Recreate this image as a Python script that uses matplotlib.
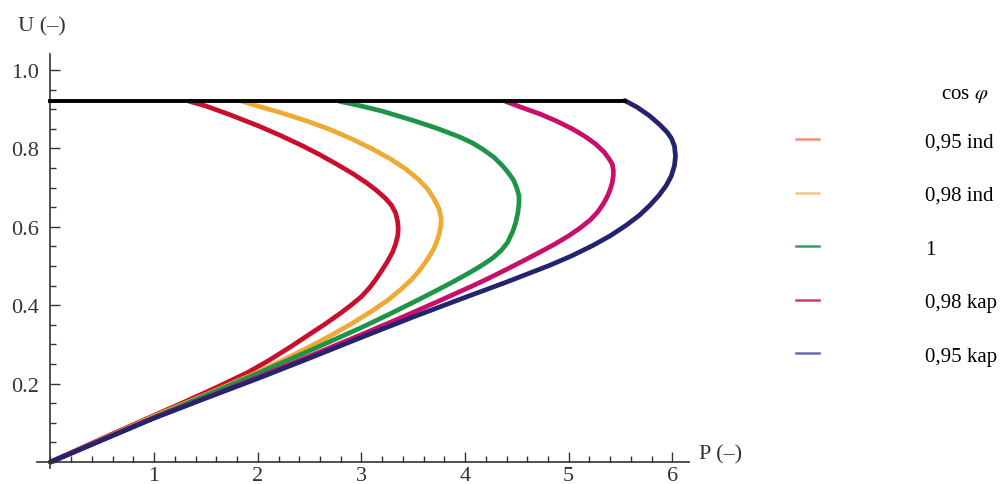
import matplotlib
matplotlib.use("Agg")
import matplotlib.pyplot as plt
from matplotlib.lines import Line2D
from matplotlib.ticker import MultipleLocator, FixedLocator, FixedFormatter

plt.rcParams['font.family'] = ['Liberation Serif', 'DejaVu Serif']
plt.rcParams['mathtext.fontset'] = 'stix'

# ---- data ----
labels = ["0,95 ind", "0,98 ind", "1", "0,98 kap", "0,95 kap"]

P_095ind = [1.34, 1.50, 1.73, 2.00, 2.21, 2.42, 2.59, 2.76, 2.92, 3.05, 3.14, 3.23, 3.29, 3.33, 3.35, 3.355,
            3.35, 3.33, 3.30, 3.25, 3.20, 3.14, 3.08, 3.00, 2.90, 2.80, 2.65, 2.50, 2.30, 2.10, 1.90, 1.60,
            1.30, 1.00, 0.50, 0.0]
U_095ind = [0.920, 0.908, 0.886, 0.858, 0.834, 0.808, 0.785, 0.760, 0.735, 0.712, 0.694, 0.673, 0.655, 0.635, 0.613, 0.594,
            0.577, 0.556, 0.535, 0.511, 0.490, 0.466, 0.445, 0.422, 0.400, 0.380, 0.352, 0.326, 0.291, 0.258, 0.228, 0.190,
            0.154, 0.119, 0.060, 0.0]

P_098ind = [1.85, 2.00, 2.21, 2.45, 2.69, 2.90, 3.11, 3.28, 3.43, 3.55, 3.64, 3.70, 3.75, 3.77, 3.765,
            3.74, 3.70, 3.64, 3.57, 3.49, 3.38, 3.25, 3.10, 2.90, 2.70, 2.50, 2.25, 2.00, 1.50, 1.00, 0.50, 0.0]
U_098ind = [0.920, 0.908, 0.892, 0.872, 0.849, 0.825, 0.798, 0.773, 0.747, 0.721, 0.696, 0.671, 0.645, 0.620, 0.600,
            0.572, 0.545, 0.518, 0.492, 0.467, 0.440, 0.412, 0.385, 0.352, 0.322, 0.294, 0.261, 0.229, 0.172, 0.117, 0.058, 0.0]

P_1 = [2.79, 3.00, 3.20, 3.49, 3.72, 3.94, 4.07, 4.17, 4.28, 4.36, 4.42, 4.47, 4.50, 4.52, 4.52, 4.51,
       4.49, 4.46, 4.41, 4.35, 4.27, 4.17, 4.05, 3.90, 3.75, 3.55, 3.30, 3.00, 2.50, 2.00, 1.50, 1.00, 0.50, 0.0]
U_1 = [0.920, 0.908, 0.895, 0.872, 0.852, 0.830, 0.814, 0.798, 0.777, 0.756, 0.737, 0.718, 0.698, 0.679, 0.660, 0.637,
       0.612, 0.588, 0.560, 0.540, 0.521, 0.503, 0.484, 0.462, 0.441, 0.414, 0.381, 0.343, 0.284, 0.226, 0.170, 0.114, 0.057, 0.0]

P_098kap = [4.39, 4.55, 4.72, 4.88, 5.04, 5.16, 5.26, 5.34, 5.39, 5.42, 5.43, 5.43, 5.42, 5.40, 5.37, 5.33, 5.28,
            5.21, 5.11, 5.00, 4.86, 4.72, 4.56, 4.39, 4.23, 4.07, 3.75, 3.40, 3.00, 2.50, 2.00, 1.50, 1.00, 0.50, 0.0]
U_098kap = [0.920, 0.904, 0.888, 0.870, 0.849, 0.830, 0.811, 0.791, 0.773, 0.760, 0.745, 0.730, 0.713, 0.695, 0.676, 0.657, 0.638,
            0.618, 0.597, 0.577, 0.555, 0.535, 0.513, 0.490, 0.469, 0.449, 0.411, 0.370, 0.325, 0.270, 0.216, 0.164, 0.113, 0.057, 0.0]

P_095kap = [5.54, 5.66, 5.78, 5.88, 5.95, 5.99, 6.02, 6.03, 6.02, 5.99, 5.94, 5.87, 5.78, 5.68, 5.55, 5.40,
            5.23, 5.03, 4.81, 4.39, 3.94, 3.50, 3.00, 2.50, 2.00, 1.50, 1.00, 0.50, 0.0]
U_095kap = [0.922, 0.905, 0.883, 0.860, 0.841, 0.826, 0.806, 0.780, 0.756, 0.730, 0.705, 0.680, 0.654, 0.629, 0.603, 0.577,
            0.552, 0.526, 0.501, 0.458, 0.414, 0.370, 0.318, 0.265, 0.213, 0.163, 0.112, 0.056, 0.0]

P_limit = [0.0, 5.54]
U_limit = [0.921, 0.921]

x_ticks = [1, 2, 3, 4, 5, 6]
y_ticks = [0.2, 0.4, 0.6, 0.8, 1.0]
y_ticklabels = ["0.2", "0.4", "0.6", "0.8", "1.0"]

curve_colors = ["#C8102E", "#EFAA35", "#1E9448", "#C8106A", "#23236E"]
legend_colors = ["#E8957A", "#F2C684", "#3E9A66", "#D03A7C", "#6A6AAE"]

series = [(P_095ind, U_095ind), (P_098ind, U_098ind), (P_1, U_1),
          (P_098kap, U_098kap), (P_095kap, U_095kap)]

# ---- figure ----
fig = plt.figure(figsize=(10.08, 4.85), dpi=100)
ax = fig.add_axes([0.0367, 0.0332, 0.6468, 0.8528])

for (P, U), c in zip(series, curve_colors):
    ax.plot(P, U, color=c, lw=3.4, solid_capstyle='round', solid_joinstyle='round', zorder=2)
ax.plot(P_limit, U_limit, color='black', lw=2.8, zorder=3)

ax.set_xlim(-0.13, 6.16)
ax.set_ylim(-0.015, 1.04)

for s in ['top', 'right']:
    ax.spines[s].set_visible(False)
ax.spines['left'].set_position(('data', 0))
ax.spines['bottom'].set_position(('data', 0))
for s in ['left', 'bottom']:
    ax.spines[s].set_color('#333333')
    ax.spines[s].set_linewidth(1.2)

ax.xaxis.set_major_locator(FixedLocator(x_ticks))
ax.xaxis.set_minor_locator(MultipleLocator(0.2))
ax.yaxis.set_major_locator(FixedLocator(y_ticks))
ax.yaxis.set_major_formatter(FixedFormatter(y_ticklabels))
ax.yaxis.set_minor_locator(MultipleLocator(0.05))
ax.tick_params(which='both', direction='in', color='#333333', width=1.0)
ax.tick_params(which='major', length=7)
ax.tick_params(which='minor', length=4)
ax.tick_params(axis='x', which='major', labelsize=16, pad=3, labelcolor='#333333')
ax.tick_params(axis='y', which='major', labelsize=16, pad=8, labelcolor='#333333')

fig.text(0.018, 0.945, "U (–)", fontsize=16, color='#333333', va='center', ha='left')
fig.text(0.693, 0.062, "P (–)", fontsize=16, color='#333333', va='center', ha='left')

handles = [Line2D([], [], color=c, lw=1.8) for c in legend_colors]
fig.legend(handles, labels, loc='upper left', bbox_to_anchor=(0.79, 0.726),
           frameon=False, fontsize=15, handlelength=1.1, handletextpad=5.1,
           labelspacing=1.63, borderaxespad=0, borderpad=0)
fig.text(0.934, 0.803, "cos $\\varphi$", fontsize=15, color='black', va='center', ha='left')

fig.savefig("out.png", dpi=100)
